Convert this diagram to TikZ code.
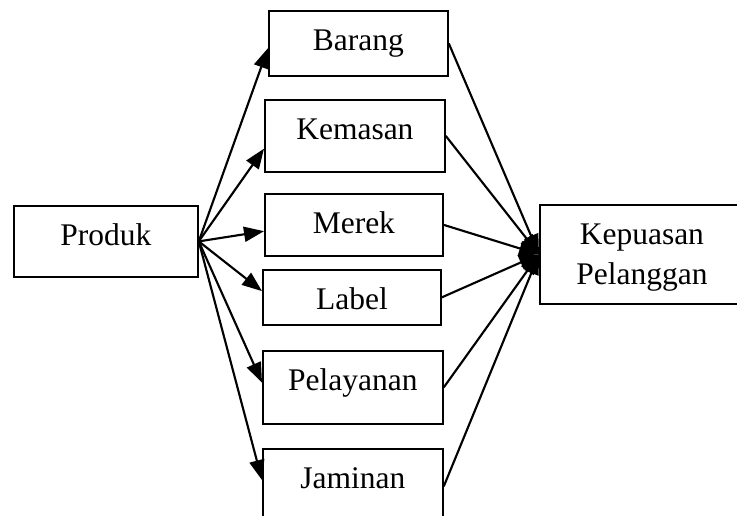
\documentclass[tikz,border=0pt]{standalone}
\usepackage{fontspec}
\setmainfont{Liberation Serif}
\usetikzlibrary{arrows.meta}

\begin{document}
\begin{tikzpicture}[x = 0.4pt, y = -0.4pt,
    kotak/.style = {draw, line width = 0.7pt, anchor = north west, inner sep = 0pt,
        text height = 16pt, align = center, font = \fontsize{12.6}{16}\selectfont},
    panah/.style = {-{Stealth[inset = 0pt, length = 8pt, width = 6pt]}, line width = 0.85pt}]
    \useasboundingbox (0, 0) rectangle (737, 515);

    \node[kotak, minimum width = 73.6pt, text depth = 12.4pt] (produk) at (13, 205) {Produk};

    \node[kotak, minimum width = 71.6pt, text depth = 10pt] (barang) at (268, 10) {Barang};
    \node[kotak, minimum width = 72pt, text depth = 12.8pt] (kemasan) at (264, 99) {Kemasan};
    \node[kotak, minimum width = 71.2pt, text depth = 8.8pt] (merek) at (264, 193) {Merek};
    \node[kotak, minimum width = 71.2pt, text depth = 6pt] (label) at (262, 269) {Label};
    \node[kotak, minimum width = 72pt, text depth = 13.2pt] (pelayanan) at (262, 350) {Pelayanan};
    \node[kotak, minimum width = 72pt, text depth = 14pt] (jaminan) at (262, 448) {Jaminan};

    \node[kotak, minimum width = 81.6pt, text height = 32pt, text depth = 7.6pt] (kepuasan) at (539, 204) {Kepuasan\\Pelanggan};

    \draw[panah] (produk.east) -- (barang.183);
    \draw[panah] (produk.east) -- (kemasan.188);
    \draw[panah] (produk.east) -- (merek.184);
    \draw[panah] (produk.east) -- (label.176);
    \draw[panah] (produk.east) -- (pelayanan.177);
    \draw[panah] (produk.east) -- (jaminan.176);

    \draw[panah] (barang.east) -- (kepuasan.west);
    \draw[panah] (kemasan.east) -- (kepuasan.west);
    \draw[panah] (merek.east) -- (kepuasan.west);
    \draw[panah] (label.east) -- (kepuasan.west);
    \draw[panah] (pelayanan.east) -- (kepuasan.west);
    \draw[panah] (jaminan.east) -- (kepuasan.west);
\end{tikzpicture}
\end{document}
